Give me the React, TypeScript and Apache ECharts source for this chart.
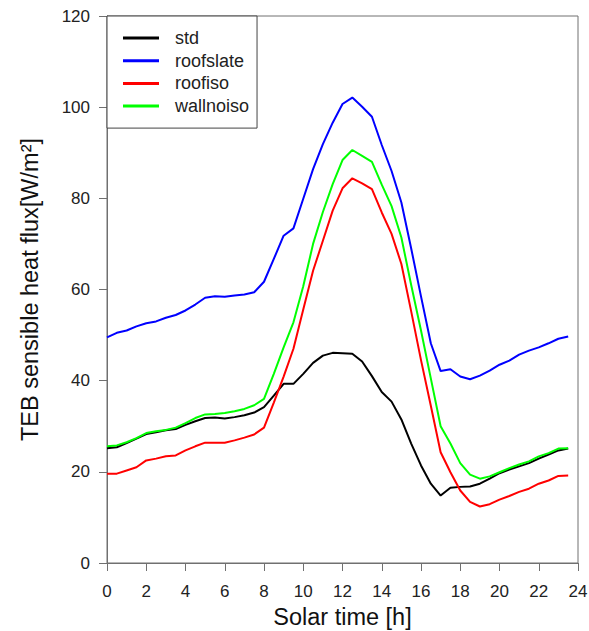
import React, { useEffect, useRef } from "react";
import * as echarts from "echarts";

const hours: number[] = Array.from({ length: 48 }, (_, i) => i * 0.5);

const stdValues = [
  25.2, 25.4, 26.3, 27.3, 28.3, 28.7, 29.1, 29.4, 30.3, 31.1, 31.8, 31.9, 31.7, 32.0, 32.4, 33.0,
  34.2, 36.7, 39.3, 39.3, 41.5, 43.9, 45.5, 46.1, 46.0, 45.9, 44.2, 41.0, 37.5, 35.4, 31.5, 26.2,
  21.4, 17.4, 14.8, 16.5, 16.7, 16.8, 17.4, 18.5, 19.7, 20.5, 21.2, 21.9, 22.9, 23.8, 24.7, 25.1,
];
const roofslateValues = [
  49.5, 50.5, 51.0, 51.9, 52.6, 53.0, 53.8, 54.4, 55.4, 56.7, 58.2, 58.5, 58.4, 58.7, 58.9, 59.4,
  61.7, 66.7, 71.8, 73.4, 79.9, 86.4, 91.9, 96.6, 100.7, 102.1, 100.1, 97.9, 91.7, 86.0, 79.1, 69.0,
  58.5, 48.2, 42.1, 42.5, 40.9, 40.3, 41.1, 42.2, 43.5, 44.4, 45.7, 46.6, 47.3, 48.2, 49.2, 49.7,
];
const roofisoValues = [
  19.6, 19.6, 20.3, 21.0, 22.5, 22.9, 23.4, 23.6, 24.7, 25.6, 26.4, 26.4, 26.4, 26.9, 27.5, 28.2,
  29.7, 35.2, 40.9, 47.0, 55.6, 64.1, 70.7, 77.3, 82.2, 84.4, 83.3, 82.0, 76.9, 72.2, 65.6, 55.2,
  44.5, 34.5, 24.3, 19.9, 15.9, 13.4, 12.4, 12.9, 13.9, 14.7, 15.6, 16.3, 17.4, 18.1, 19.1, 19.2,
];
const wallnoisoValues = [
  25.6, 25.8, 26.5, 27.4, 28.5, 28.9, 29.2, 29.7, 30.7, 31.8, 32.6, 32.7, 32.9, 33.3, 33.8, 34.6,
  36.0, 41.5, 47.3, 52.8, 60.7, 70.0, 77.0, 83.1, 88.4, 90.6, 89.3, 88.0, 83.0, 78.3, 71.4, 61.0,
  51.0, 40.5, 30.0, 26.2, 21.9, 19.4, 18.5, 19.0, 19.9, 20.8, 21.6, 22.3, 23.4, 24.1, 25.1, 25.2,
];

const seriesNames = ["std", "roofslate", "roofiso", "wallnoiso"];
const seriesColors = ["#000000", "#0000ff", "#ff0000", "#00ff00"];
const seriesValues = [stdValues, roofslateValues, roofisoValues, wallnoisoValues];

const FONT = "Arial, 'Liberation Sans', sans-serif";
const AXIS_COLOR = "#707070";

export default function App() {
  const ref = useRef<HTMLDivElement>(null);
  useEffect(() => {
    if (!ref.current) return;
    const chart = echarts.init(ref.current, undefined, { renderer: "svg" });
    chart.setOption({
      animation: false,
      backgroundColor: "#ffffff",
      grid: {
        left: 107,
        right: 11,
        top: 16,
        bottom: 68,
        containLabel: false,
        outerBoundsMode: "none",
        show: true,
        borderColor: AXIS_COLOR,
        borderWidth: 1,
      },
      legend: {
        orient: "vertical",
        left: 107,
        top: 16,
        padding: [13, 8, 13, 16],
        borderColor: "#444",
        borderWidth: 1,
        backgroundColor: "#fff",
        icon: "rect",
        itemWidth: 36,
        itemHeight: 3,
        itemGap: 4.7,
        textStyle: { fontFamily: FONT, fontSize: 18, color: "#222", lineHeight: 18, padding: [0, 0, 0, 11] },
        data: seriesNames,
      },
      xAxis: {
        type: "value",
        min: 0,
        max: 24,
        interval: 2,
        name: "Solar time [h]",
        nameLocation: "middle",
        nameGap: 40,
        nameTextStyle: { fontFamily: FONT, fontSize: 23.5, color: "#111" },
        axisLine: { show: true, lineStyle: { color: AXIS_COLOR } },
        axisTick: { show: true, length: 8, lineStyle: { color: AXIS_COLOR } },
        axisLabel: { fontFamily: FONT, fontSize: 17, color: "#222", margin: 20 },
        splitLine: { show: false },
      },
      yAxis: {
        type: "value",
        min: 0,
        max: 120,
        interval: 20,
        name: "TEB sensible heat flux[W/m²]",
        nameLocation: "middle",
        nameGap: 65,
        nameTextStyle: { fontFamily: FONT, fontSize: 23.5, color: "#111" },
        axisLine: { show: true, lineStyle: { color: AXIS_COLOR } },
        axisTick: { show: true, length: 8, lineStyle: { color: AXIS_COLOR } },
        axisLabel: { fontFamily: FONT, fontSize: 17, color: "#222", margin: 17 },
        splitLine: { show: false },
      },
      series: seriesNames.map((name, i) => ({
        name,
        type: "line",
        data: hours.map((h, j) => [h, seriesValues[i][j]]),
        symbol: "none",
        color: seriesColors[i],
        lineStyle: { width: 2, color: seriesColors[i] },
      })),
    });
    return () => chart.dispose();
  }, []);
  return <div ref={ref} style={{ width: 589, height: 631, position: "absolute", left: 0, top: 0 }} />;
}
